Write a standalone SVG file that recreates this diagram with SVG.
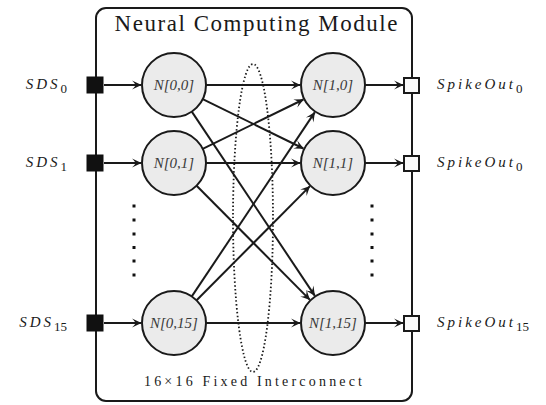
<svg xmlns="http://www.w3.org/2000/svg" width="546" height="405" viewBox="0 0 546 405">
  <style>
    .frame { fill: none; stroke: #1a1a1a; stroke-width: 2; }
    .neuron { fill: #ebebeb; stroke: #1a1a1a; stroke-width: 2; }
    .nlabel { font-family: "Liberation Serif", "DejaVu Serif", serif; font-style: italic; font-size: 15px; fill: #3a3a3a; text-anchor: middle; }
    .edge { stroke: #1a1a1a; stroke-width: 2; fill: none; marker-end: url(#tip); }
    .inport { fill: #111; stroke: #111; stroke-width: 1; }
    .outport { fill: #fafafa; stroke: #1a1a1a; stroke-width: 2; }
    .math { font-family: "Liberation Serif", "DejaVu Serif", serif; font-style: italic; font-size: 15px; letter-spacing: 3px; fill: #1a1a1a; }
    .sub { font-style: normal; font-size: 13px; letter-spacing: 0; }
    .title { font-family: "Liberation Serif", "DejaVu Serif", serif; font-size: 23px; fill: #1a1a1a; }
    .caption { font-family: "Liberation Serif", "DejaVu Serif", serif; font-size: 14px; fill: #1a1a1a; }
    .dot { fill: #111; }
  </style>
  <defs>
    <marker id="tip" viewBox="-10 -5 11 10" refX="0" refY="0" markerWidth="11" markerHeight="10" markerUnits="userSpaceOnUse" orient="auto">
      <path d="M0.5,0 L-9,-4.5 Q-5.5,-1 -5.5,0 Q-5.5,1 -9,4.5 Z" fill="#1a1a1a"/>
    </marker>
  </defs>

  <!-- module frame -->
  <g id="module">
    <rect class="frame" x="96" y="8" width="316" height="393" rx="10" ry="10"/>
    <text class="title" x="256" y="31" text-anchor="middle" textLength="283" lengthAdjust="spacing">Neural Computing Module</text>
    <text class="caption" x="253" y="386" text-anchor="middle" textLength="218" lengthAdjust="spacing">16×16 Fixed Interconnect</text>
  </g>

  <!-- fixed interconnect region -->
  <g id="interconnect">
    <ellipse cx="253" cy="218" rx="20" ry="154" fill="none" stroke="#1a1a1a" stroke-width="1.8" stroke-dasharray="1.5 2.3"/>
  </g>

  <!-- ellipsis between rows -->
  <g id="ellipsis-left">
    <rect class="dot" x="132.5" y="204.5" width="3" height="3"/>
    <rect class="dot" x="132.5" y="218.5" width="3" height="3"/>
    <rect class="dot" x="132.5" y="232.5" width="3" height="3"/>
    <rect class="dot" x="132.5" y="246" width="3" height="3"/>
    <rect class="dot" x="132.5" y="259.5" width="3" height="3"/>
    <rect class="dot" x="132.5" y="273.5" width="3" height="3"/>
  </g>
  <g id="ellipsis-right">
    <rect class="dot" x="370.5" y="204.5" width="3" height="3"/>
    <rect class="dot" x="370.5" y="218.5" width="3" height="3"/>
    <rect class="dot" x="370.5" y="232.5" width="3" height="3"/>
    <rect class="dot" x="370.5" y="246" width="3" height="3"/>
    <rect class="dot" x="370.5" y="259.5" width="3" height="3"/>
    <rect class="dot" x="370.5" y="273.5" width="3" height="3"/>
  </g>

  <!-- connectors -->
  <g id="connectors">
    <!-- inputs -->
    <line class="edge" x1="104" y1="85" x2="141" y2="85"/>
    <line class="edge" x1="104" y1="163" x2="141" y2="163"/>
    <line class="edge" x1="104" y1="323" x2="141" y2="323"/>
    <!-- layer 0 to layer 1 -->
    <line class="edge" x1="206" y1="85" x2="300" y2="85"/>
    <line class="edge" x1="206" y1="163" x2="300" y2="163"/>
    <line class="edge" x1="206" y1="323" x2="300" y2="323"/>
    <line class="edge" x1="202.7" y1="99.1" x2="303.4" y2="148.5"/>
    <line class="edge" x1="191.8" y1="111.6" x2="314.7" y2="295.6"/>
    <line class="edge" x1="202.7" y1="148.9" x2="303.4" y2="99.5"/>
    <line class="edge" x1="196.6" y1="185.7" x2="309.7" y2="299.6"/>
    <line class="edge" x1="191.8" y1="296.4" x2="314.7" y2="112.4"/>
    <line class="edge" x1="196.6" y1="300.3" x2="309.7" y2="186.4"/>
    <!-- outputs -->
    <line class="edge" x1="365" y1="85" x2="403" y2="85"/>
    <line class="edge" x1="365" y1="163" x2="403" y2="163"/>
    <line class="edge" x1="365" y1="323" x2="403" y2="323"/>
  </g>

  <!-- input ports -->
  <g id="in0">
    <rect class="inport" x="87" y="77" width="16" height="16"/>
    <text class="math" x="67" y="89" text-anchor="end">SDS<tspan class="sub" dy="4">0</tspan></text>
  </g>
  <g id="in1">
    <rect class="inport" x="87" y="155" width="16" height="16"/>
    <text class="math" x="67" y="167" text-anchor="end">SDS<tspan class="sub" dy="4">1</tspan></text>
  </g>
  <g id="in15">
    <rect class="inport" x="87" y="315" width="16" height="16"/>
    <text class="math" x="67" y="327" text-anchor="end">SDS<tspan class="sub" dy="4">15</tspan></text>
  </g>

  <!-- layer 0 neurons -->
  <g id="n00">
    <circle class="neuron" cx="174" cy="85" r="32"/>
    <text class="nlabel" x="174" y="90">N[0,0]</text>
  </g>
  <g id="n01">
    <circle class="neuron" cx="174" cy="163" r="32"/>
    <text class="nlabel" x="174" y="168">N[0,1]</text>
  </g>
  <g id="n015">
    <circle class="neuron" cx="174" cy="323" r="32"/>
    <text class="nlabel" x="174" y="328">N[0,15]</text>
  </g>

  <!-- layer 1 neurons -->
  <g id="n10">
    <circle class="neuron" cx="333" cy="85" r="32"/>
    <text class="nlabel" x="333" y="90">N[1,0]</text>
  </g>
  <g id="n11">
    <circle class="neuron" cx="333" cy="163" r="32"/>
    <text class="nlabel" x="333" y="168">N[1,1]</text>
  </g>
  <g id="n115">
    <circle class="neuron" cx="333" cy="323" r="32"/>
    <text class="nlabel" x="333" y="328">N[1,15]</text>
  </g>

  <!-- output ports -->
  <g id="out0">
    <rect class="outport" x="404" y="78" width="15" height="15"/>
    <text class="math" x="437" y="89" letter-spacing="2.6">SpikeOut<tspan class="sub" dy="4">0</tspan></text>
  </g>
  <g id="out1">
    <rect class="outport" x="404" y="156" width="15" height="15"/>
    <text class="math" x="437" y="167" letter-spacing="2.6">SpikeOut<tspan class="sub" dy="4">0</tspan></text>
  </g>
  <g id="out15">
    <rect class="outport" x="404" y="316" width="15" height="15"/>
    <text class="math" x="437" y="327" letter-spacing="2.6">SpikeOut<tspan class="sub" dy="4">15</tspan></text>
  </g>
</svg>
